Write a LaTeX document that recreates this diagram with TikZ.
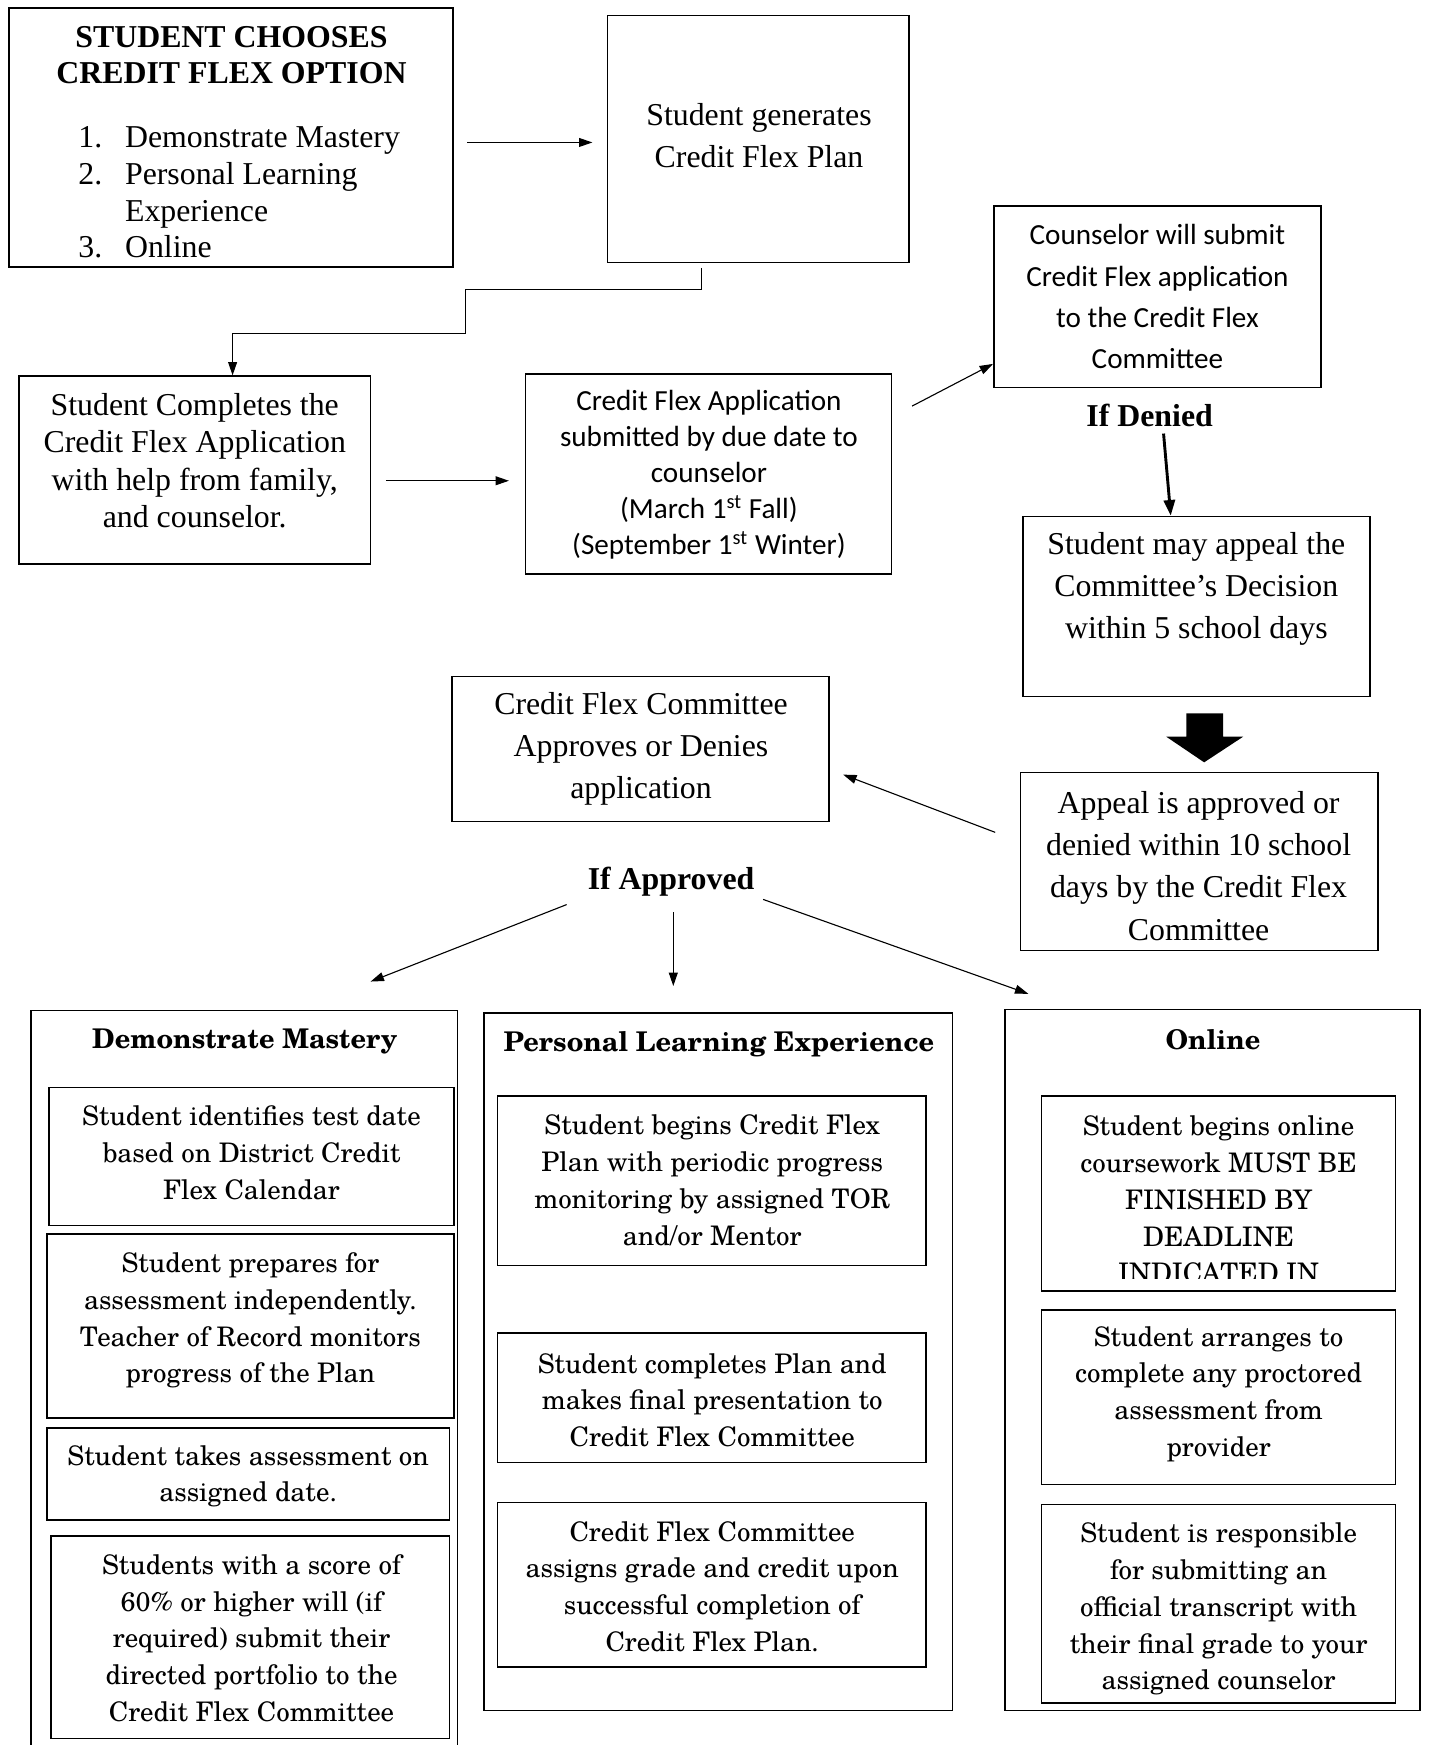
\documentclass[tikz,border=0pt]{standalone}
\usepackage{fontspec}
\setmainfont{Liberation Serif}
\newfontfamily\calibri{Carlito}
\newfontfamily\schola{TeX Gyre Schola}
\usetikzlibrary{arrows.meta,fit}

\begin{document}
\begin{tikzpicture}[x=0.5pt,y=-0.5pt,
  box/.style={draw,line width=0.7pt,inner sep=0pt},
  tnr/.style={align=center,inner sep=0pt,font=\fontsize{14.3}{#1}\selectfont},
  tnrb/.style={align=center,inner sep=0pt,font=\bfseries\fontsize{14.3}{#1}\selectfont},
  cal/.style={align=center,inner sep=0pt,font=\calibri\fontsize{13.1}{#1}\selectfont},
  sch/.style={align=center,inner sep=0pt,font=\schola\fontsize{12.1}{16.5}\selectfont},
  head/.style={inner sep=0pt,font=\schola\bfseries\fontsize{12.2}{14}\selectfont},
  arr/.style={-{Triangle[length=6pt,width=4pt]},line width=0.5pt}]
\useasboundingbox (0,0) rectangle (1285,1568);

% top row
\node[box,fit={(8,7) (407,240)}] (choose) {};
\node[tnrb=16.5pt] (choosetitle) at (208,49.5) {STUDENT CHOOSES\\CREDIT FLEX OPTION};
\node[inner sep=0pt,anchor=west,font=\fontsize{14.3}{16.5}\selectfont] (chooselist) at (70,175.5)
  {\begin{tabular}{@{}p{21pt}@{}l@{}}1. & Demonstrate Mastery\\ 2. & Personal Learning\\ & Experience\\ 3. & Online\end{tabular}};

\node[box,fit={(546,14) (817,236)}] (plan) {};
\node[tnr=19pt] (plantxt) at (682,122) {Student generates\\Credit Flex Plan};

\draw[arr,shorten <=6pt,shorten >=6.5pt] ([yshift=-2.25pt]choose.east) -- ([yshift=-1.5pt]plan.west);

% second row
\node[box,fit={(17,338) (333,507)}] (completes) {};
\node[tnr=16.7pt] (completestxt) at (175,414) {Student Completes the\\Credit Flex Application\\with help from family,\\and counselor.};

\node[box,fit={(472,336) (801,516)}] (application) {};
\node[cal=16.1pt] (applicationtxt) at (637,426.5) {Credit Flex Application\\submitted by due date to\\counselor\\(March 1\textsuperscript{st} Fall)\\(September 1\textsuperscript{st} Winter)};

\node[box,fit={(893,185) (1187,348)}] (counselor) {};
\node[cal=18.5pt] (counselortxt) at (1040,266.5) {Counselor will submit\\Credit Flex application\\to the Credit Flex\\Committee};

\draw[arr] ([xshift=-25.75pt,yshift=-2pt]plan.south) -- (630,260) -- (418,260) -- (418,300) -- (209,300) -- ([xshift=17pt]completes.north);
\draw[arr,shorten <=6.5pt,shorten >=7pt] ([yshift=-4.75pt]completes.east) -- ([yshift=-3pt]application.west);
\draw[arr,shorten <=10.1pt] ([yshift=25.9pt]application.east) -- ([yshift=-30.25pt]counselor.west);

% denied branch
\node[tnrb=16pt] (denied) at (1033,373) {If Denied};
\node[box,fit={(919,464) (1231,626)}] (appeal) {};
\node[tnr=19pt] (appealtxt) at (1075,529) {Student may appeal the\\Committee’s Decision\\within 5 school days};
\draw[-{Triangle[length=7pt,width=5pt]},line width=1.3pt,shorten <=3pt] ([xshift=6pt]denied.south) -- ([xshift=-11.5pt]appeal.north);

\fill (1066,641) -- (1099,641) -- (1099,662) -- (1117,662) -- (1082,685) -- (1048,662) -- (1066,662) -- cycle;

\node[box,fit={(917,694) (1238,854)}] (decision) {};
\node[tnr=19pt] (decisiontxt) at (1077,778) {Appeal is approved or\\denied within 10 school\\days by the Credit Flex\\Committee};

\node[box,fit={(406,608) (745,738)}] (committee) {};
\node[tnr=19pt] (committeetxt) at (576,673) {Credit Flex Committee\\Approves or Denies\\application};

\draw[arr,shorten <=11.8pt,shorten >=6.4pt] ([yshift=8.85pt]decision.west) -- ([yshift=-9.25pt]committee.east);

% approved branch
\node[tnrb=16pt] (approved) at (603,792) {If Approved};
\coordinate (dmin) at (333,882);
\coordinate (plein) at (605,886);
\coordinate (onin) at (924,893);
\draw[arr,shorten <=10pt] (approved.south west) -- (dmin);
\draw[arr,shorten <=7pt] ([xshift=1pt]approved.south) -- (plein);
\draw[arr,shorten <=4pt] (approved.south east) -- (onin);

% demonstrate mastery column
\node[box,fit={(28,908) (411,1574)}] (dm) {};
\node[head] (dmtitle) at (220,936) {Demonstrate Mastery};
\node[box,fit={(44,977) (408,1101)}] (dma) {};
\node[sch] (dmatxt) at (226,1036) {Student identifies test date\\based on District Credit\\Flex Calendar};
\node[box,fit={(42,1109) (408,1274)}] (dmb) {};
\node[sch] (dmbtxt) at (225,1186.5) {Student prepares for\\assessment independently.\\Teacher of Record monitors\\progress of the Plan};
\node[box,fit={(42,1283) (404,1366)}] (dmc) {};
\node[sch] (dmctxt) at (223,1326.5) {Student takes assessment on\\assigned date.};
\node[box,fit={(46,1380) (404,1562)}] (dmd) {};
\node[sch] (dmdtxt) at (226,1472) {Students with a score of\\60\% or higher will (if\\required) submit their\\directed portfolio to the\\Credit Flex Committee};

% personal learning column
\node[box,fit={(435,910) (856,1537)}] (ple) {};
\node[head] (pletitle) at (646,938) {Personal Learning Experience};
\node[box,fit={(447,985) (832,1137)}] (plea) {};
\node[sch] (pleatxt) at (640,1060.5) {Student begins Credit Flex\\Plan with periodic progress\\monitoring by assigned TOR\\and/or Mentor};
\node[box,fit={(447,1198) (832,1314)}] (pleb) {};
\node[sch] (plebtxt) at (640,1258) {Student completes Plan and\\makes final presentation to\\Credit Flex Committee};
\node[box,fit={(447,1350) (832,1498)}] (plec) {};
\node[sch] (plectxt) at (640,1425.5) {Credit Flex Committee\\assigns grade and credit upon\\successful completion of\\Credit Flex Plan.};

% online column (first and last text cut off by the box)
\node[box,fit={(903,907) (1276,1537)}] (on) {};
\node[head] (ontitle) at (1090,934) {Online};
\begin{scope}
\clip (936,985) rectangle (1254,1149);
\node[sch] (onatxt) at (1095,1078) {Student begins online\\coursework MUST BE\\FINISHED BY\\DEADLINE\\INDICATED IN};
\end{scope}
\node[box,fit={(936,985) (1254,1160)}] (ona) {};
\node[box,fit={(936,1177) (1254,1334)}] (onb) {};
\node[sch] (onbtxt) at (1095,1252.5) {Student arranges to\\complete any proctored\\assessment from\\provider};
\begin{scope}
\clip (936,1352) rectangle (1254,1525);
\node[sch] (onctxt) at (1095,1446) {Student is responsible\\for submitting an\\official transcript with\\their final grade to your\\assigned counselor};
\end{scope}
\node[box,fit={(936,1352) (1254,1530)}] (onc) {};
\end{tikzpicture}
\end{document}
